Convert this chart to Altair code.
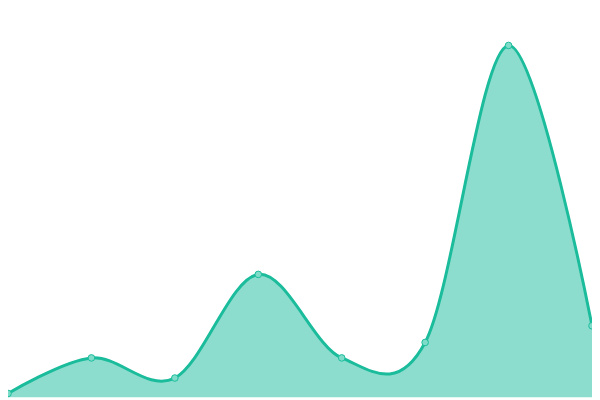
import altair as alt
import pandas as pd

idx = [0, 1, 2, 3, 4, 5, 6, 7]
values = [1, 10.2, 5, 31.8, 10.2, 14.2, 91, 18.5]

df = pd.DataFrame({"i": idx, "v": values})

x = alt.X("i:Q", axis=None, scale=alt.Scale(domain=[0, 7], nice=False, zero=False))
y = alt.Y("v:Q", axis=None, scale=alt.Scale(domain=[0, 100], nice=False))

base = alt.Chart(df).encode(x=x, y=y)

area = base.mark_area(interpolate="cardinal", color="#1abc9c", opacity=0.5)
line = base.mark_line(interpolate="cardinal", color="#1abc9c", strokeWidth=3)
pts = base.mark_point(filled=True, fill="#7fdcc9", stroke="#1abc9c", strokeWidth=1, size=45, opacity=1)

chart = alt.layer(area, line, pts).properties(
    width=592, height=392, padding=0, autosize=alt.AutoSizeParams(type="none")
).configure_view(stroke=None)

chart.save("out.html", embed_options={"renderer": "svg", "actions": False})
